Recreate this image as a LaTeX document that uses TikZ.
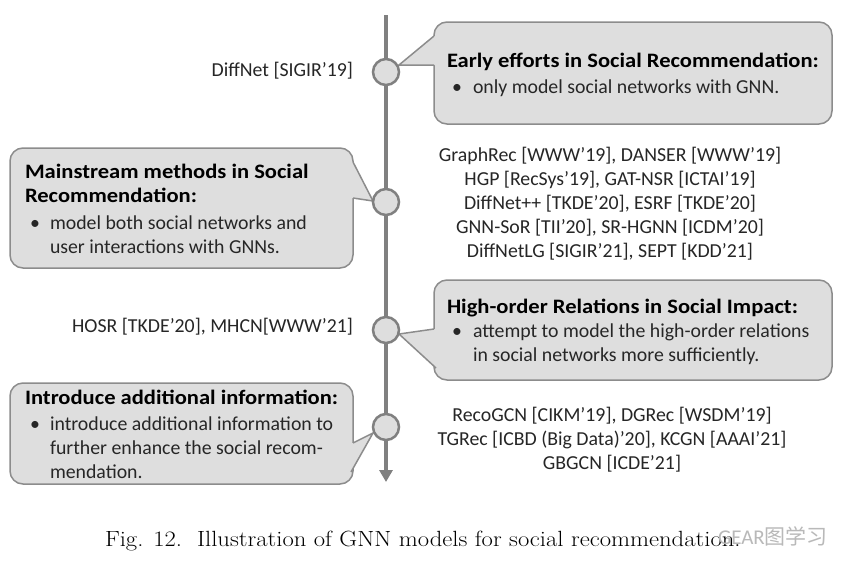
\documentclass[tikz,border=0pt]{standalone}
\usepackage{fontspec}
\setmainfont{Carlito}
\newfontfamily\headfont[FakeStretch=1.1]{Carlito}
\newfontfamily\capfont[FakeStretch=1.12]{Latin Modern Roman}
\newfontfamily\cjkfont{Noto Sans CJK SC}
\usetikzlibrary{arrows.meta,calc}
\definecolor{boxfill}{HTML}{DEDEDE}
\definecolor{boxline}{HTML}{8C8C8C}
\definecolor{axiscol}{HTML}{808080}
\definecolor{txt}{HTML}{262626}
\begin{document}
\begin{tikzpicture}[x=1pt,y=-1pt,
  every node/.style={inner sep=0pt, outer sep=0pt, text=txt},
  lbl/.style={font=\fontsize{19.8}{22}\selectfont},
  head/.style={font=\headfont\fontsize{20.5}{22}\selectfont\bfseries, text=black},
  box/.style={fill=boxfill, draw=boxline, line width=1.5pt, rounded corners=13pt},
  dot/.style={circle, minimum size=26pt, fill=boxfill, draw=axiscol, line width=2.5pt},
  ptr/.style={draw=boxline, line width=1.5pt, line join=miter},
  axisline/.style={draw=axiscol, line width=4pt, -{Triangle[width=13pt,length=12pt]}}]
\useasboundingbox (0,0) rectangle (856,571);
\fill[white] (0,0) rectangle (856,571);

% timeline
\coordinate (top) at (386,15);
\coordinate (bot) at (386,482);
\draw[axisline] (top) -- (bot);

% callout boxes
\node[box, minimum width=398pt, minimum height=102pt, anchor=north west] (b1) at (434,22) {};
\node[box, minimum width=343pt, minimum height=120pt, anchor=north west] (b2) at (10,148) {};
\node[box, minimum width=398pt, minimum height=100pt, anchor=north west] (b3) at (434,280) {};
\node[box, minimum width=343pt, minimum height=101pt, anchor=north west] (b4) at (10,383) {};

% pointers
\coordinate (u1) at (434,36);  \coordinate (l1) at (434,65);  \coordinate (t1) at (399,65);
\coordinate (u2) at (353,162); \coordinate (l2) at (353,198); \coordinate (t2) at (373,201);
\coordinate (u3) at (434,329); \coordinate (l3) at (436,368); \coordinate (t3) at (399,334);
\coordinate (u4) at (353,443); \coordinate (l4) at (351,472); \coordinate (t4) at (373,433);
\fill[boxfill] (t1) -- (u1) -- ++(5,0) -- ($(l1)+(5,0)$) -- (l1) -- cycle;
\fill[boxfill] (t2) -- (u2) -- ++(-5,0) -- ($(l2)+(-5,0)$) -- (l2) -- cycle;
\fill[boxfill] (t3) -- (u3) -- ++(5,0) -- ($(l3)+(5,-3)$) -- (l3) -- cycle;
\fill[boxfill] (t4) -- (u4) -- ++(-5,0) -- ($(l4)+(-5,-3)$) -- (l4) -- cycle;
\draw[ptr] (u1) -- (t1) -- (l1);
\draw[ptr] (u2) -- (t2) -- (l2);
\draw[ptr] (u3) -- (t3) -- (l3);
\draw[ptr] (u4) -- (t4) -- (l4);

% timeline dots
\node[dot] (c1) at (386,72) {};
\node[dot] (c2) at (386,202) {};
\node[dot] (c3) at (386,330) {};
\node[dot] (c4) at (386,427) {};

% callout 1 text
\node[head, anchor=base west] (h1) at (447,67) {Early efforts in Social Recommendation:};
\node[lbl, anchor=base west] (k1) at (452,93) {•};
\node[lbl, anchor=base west] (t1a) at (473,93) {only model social networks with GNN.};

% callout 2 text
\node[head, anchor=base west] (h2a) at (25,178) {Mainstream methods in Social};
\node[head, anchor=base west] (h2b) at (25,202) {Recommendation:};
\node[lbl, anchor=base west] (k2) at (30,229) {•};
\node[lbl, anchor=base west] (t2a) at (50,229) {model both social networks and};
\node[lbl, anchor=base west] (t2b) at (50,253) {user interactions with GNNs.};

% callout 3 text
\node[head, anchor=base west] (h3) at (447,313) {High-order Relations in Social Impact:};
\node[lbl, anchor=base west] (k3) at (452,337) {•};
\node[lbl, anchor=base west] (t3a) at (473,337) {attempt to model the high-order relations};
\node[lbl, anchor=base west] (t3b) at (473,361) {in social networks more sufficiently.};

% callout 4 text
\node[head, anchor=base west] (h4) at (25,404) {Introduce additional information:};
\node[lbl, anchor=base west] (k4) at (30,430) {•};
\node[lbl, anchor=base west] (t4a) at (50,430) {introduce additional information to};
\node[lbl, anchor=base west] (t4b) at (50,454) {further enhance the social recom-};
\node[lbl, anchor=base west] (t4c) at (50,478) {mendation.};

% model labels
\node[lbl, anchor=base east] (m1) at (353,76) {DiffNet [SIGIR’19]};
\node[lbl, anchor=base] (m2a) at (610,161) {GraphRec [WWW’19], DANSER [WWW’19]};
\node[lbl, anchor=base] (m2b) at (610,185) {HGP [RecSys’19], GAT-NSR [ICTAI’19]};
\node[lbl, anchor=base] (m2c) at (610,209) {DiffNet++ [TKDE’20], ESRF [TKDE’20]};
\node[lbl, anchor=base] (m2d) at (610,233) {GNN-SoR [TII’20], SR-HGNN [ICDM’20]};
\node[lbl, anchor=base] (m2e) at (610,257) {DiffNetLG [SIGIR’21], SEPT [KDD’21]};
\node[lbl, anchor=base east] (m3) at (353,332) {HOSR [TKDE’20], MHCN[WWW’21]};
\node[lbl, anchor=base] (m4a) at (612,421) {RecoGCN [CIKM’19], DGRec [WSDM’19]};
\node[lbl, anchor=base] (m4b) at (612,445) {TGRec [ICBD (Big Data)’20], KCGN [AAAI’21]};
\node[lbl, anchor=base] (m4c) at (612,469) {GBGCN [ICDE’21]};

% caption
\node[anchor=base west, text=black, font=\capfont\fontsize{22}{26}\selectfont] (cap) at (105,546)
  {Fig. 12.\ \ Illustration of GNN models for social recommendation.};
\node[anchor=base west, text=gray!55, font=\fontsize{21}{24}\selectfont] (wm) at (718,544)
  {GEAR{\cjkfont 图学习}};
\end{tikzpicture}
\end{document}
